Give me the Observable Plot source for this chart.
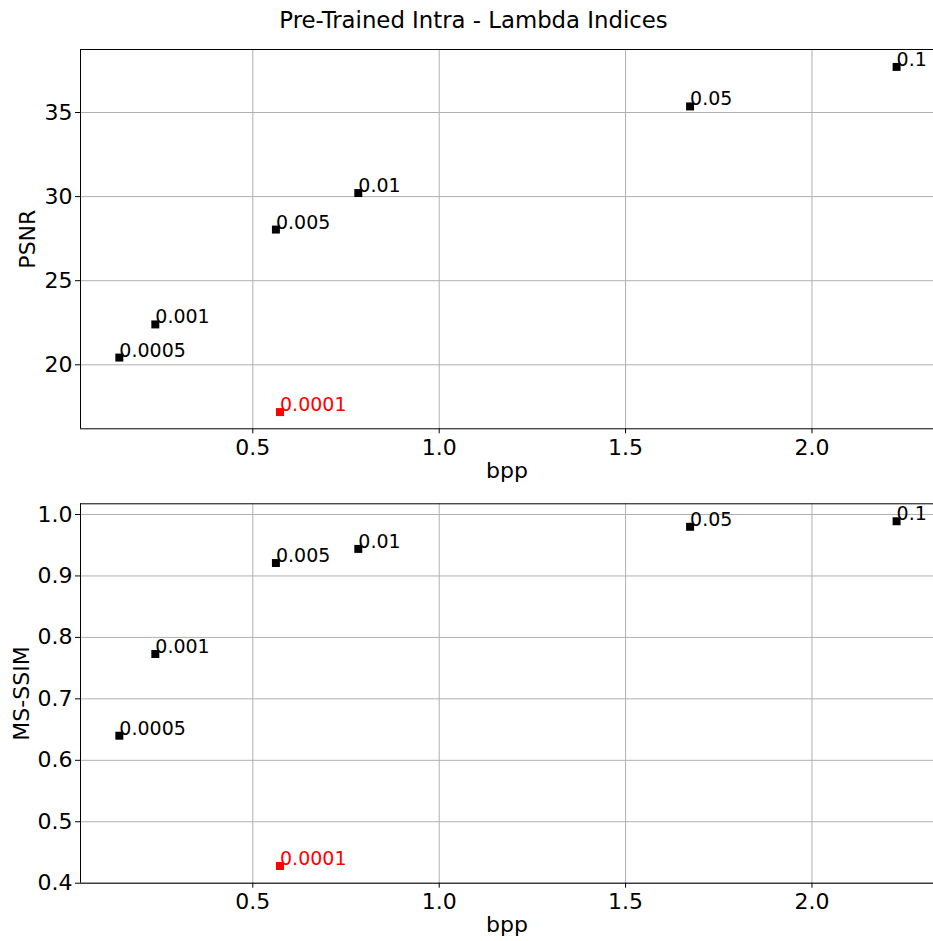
<!DOCTYPE html>
<html>
<head>
<meta charset="utf-8">
<script src="https://cdn.jsdelivr.net/npm/d3@7"></script>
<script src="https://cdn.jsdelivr.net/npm/@observablehq/plot@0.6"></script>
<style>
  html, body { margin: 0; padding: 0; background: #fff; overflow: hidden; }
  body { width: 933px; font-family: "DejaVu Sans", sans-serif; }
  #title { width: 933px; height: 40px; box-sizing: border-box; padding-left: 14px;
           text-align: center; font-size: 22.8px; line-height: 40px; color: #000; }
</style>
</head>
<body>
<div id="title">Pre-Trained Intra - Lambda Indices</div>
<div id="charts"></div>
<script>
// ---- data ----
const lambdas = ["0.0001", "0.0005", "0.001", "0.005", "0.01", "0.05", "0.1"];
const bpp     = [0.573, 0.142, 0.2385, 0.562, 0.783, 1.673, 2.227];
const psnr    = [17.19, 20.43, 22.40, 28.04, 30.21, 35.36, 37.71];
const msssim  = [0.428, 0.640, 0.773, 0.921, 0.944, 0.980, 0.989];
const highlighted = "0.0001";

const xTicks = [0.5, 1.0, 1.5, 2.0];
const psnrTicks = [20, 25, 30, 35];
const ssimTicks = [0.4, 0.5, 0.6, 0.7, 0.8, 0.9, 1.0];

const rows = lambdas.map((l, i) => ({lambda: l, bpp: bpp[i], psnr: psnr[i], msssim: msssim[i]}));

function panel({yKey, yLabel, yDomain, yTicks, yFmt, height, marginTop, marginBottom, labelDx}) {
  const xDomain = [0.0378, 2.326];
  const normal = rows.filter(d => d.lambda !== highlighted);
  const special = rows.filter(d => d.lambda === highlighted);
  return Plot.plot({
    width: 933,
    height,
    marginTop,
    marginBottom,
    marginLeft: 80,
    marginRight: 0,
    style: {fontFamily: "DejaVu Sans, sans-serif", fontSize: "22px", color: "#000", background: "#fff", overflow: "visible"},
    x: {domain: xDomain},
    y: {domain: yDomain},
    marks: [
      Plot.gridX(xTicks, {stroke: "#b0b0b0", strokeOpacity: 1, strokeWidth: 1}),
      Plot.gridY(yTicks, {stroke: "#b0b0b0", strokeOpacity: 1, strokeWidth: 1}),
      Plot.ruleY([yDomain[0], yDomain[1]], {stroke: "#000", strokeWidth: 1}),
      Plot.ruleX([xDomain[0]], {stroke: "#000", strokeWidth: 1}),
      Plot.axisX(xTicks, {tickSize: 5, tickPadding: 5.5, tickFormat: d => d.toFixed(1), label: null, fontSize: 22}),
      Plot.axisY(yTicks, {tickSize: 5, tickPadding: 3, tickFormat: yFmt, label: null, fontSize: 22}),
      Plot.text([yLabel], {frameAnchor: "left", dx: labelDx, rotate: -90, textAnchor: "middle", lineAnchor: "middle", fontSize: 22, fill: "#000"}),
      Plot.text(["bpp"], {frameAnchor: "bottom", dy: 42, textAnchor: "middle", lineAnchor: "middle", fontSize: 22, fill: "#000"}),
      Plot.dot(normal, {x: "bpp", y: yKey, symbol: "square", r: 4.5, fill: "#000", stroke: "none"}),
      Plot.dot(special, {x: "bpp", y: yKey, symbol: "square", r: 4.5, fill: "#ff0000", stroke: "none"}),
      Plot.text(normal, {x: "bpp", y: yKey, text: "lambda", textAnchor: "start", lineAnchor: "bottom", dy: -1, fontSize: 19, fill: "#000"}),
      Plot.text(special, {x: "bpp", y: yKey, text: "lambda", textAnchor: "start", lineAnchor: "bottom", dy: -1, fontSize: 19, fill: "#ff0000"})
    ]
  });
}

const charts = document.getElementById("charts");
charts.appendChild(panel({
  yKey: "psnr", yLabel: "PSNR", yDomain: [16.195, 38.745], yTicks: psnrTicks,
  yFmt: d => String(d), height: 455, marginTop: 9, marginBottom: 66.7, labelDx: -52.3
}));
charts.appendChild(panel({
  yKey: "msssim", yLabel: "MS-SSIM", yDomain: [0.4, 1.0174], yTicks: ssimTicks,
  yFmt: d => d.toFixed(1), height: 446, marginTop: 8.3, marginBottom: 58.3, labelDx: -59
}));
</script>
</body>
</html>
